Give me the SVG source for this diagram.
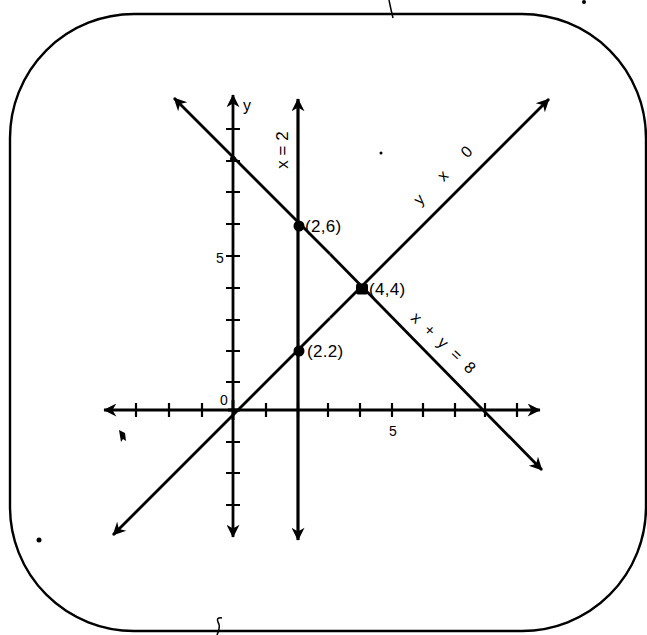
<svg xmlns="http://www.w3.org/2000/svg" width="647" height="635" viewBox="0 0 647 635">
<defs>
<marker id="ah" viewBox="0 0 10 10" refX="9.5" refY="5" markerUnits="userSpaceOnUse" markerWidth="18" markerHeight="13" orient="auto">
<path d="M0,0 L10,5 L0,10 L3,5 z" fill="#000"/>
</marker>
</defs>
<style>
.ln{stroke:#000;stroke-width:2.8;fill:none}
.tk{stroke:#000;stroke-width:2.2;fill:none}
.lb{font-family:"Liberation Sans",Arial,sans-serif;fill:#000}
</style>
<rect x="10" y="14" width="636" height="617" rx="124" ry="124" fill="#fff" stroke="#000" stroke-width="2.4"/>
<g id="connectors">
<line id="x-axis" class="ln" x1="240" y1="410" x2="104" y2="410" marker-end="url(#ah)"/>
<line class="ln" x1="228" y1="410" x2="540" y2="410" marker-end="url(#ah)"/>
<line id="y-axis" class="ln" x1="233" y1="420" x2="233" y2="95" marker-end="url(#ah)"/>
<line class="ln" x1="233" y1="400" x2="233" y2="537" marker-end="url(#ah)"/>
<line id="x2-line" class="ln" style="stroke-width:3.2" x1="298" y1="300" x2="298" y2="99" marker-end="url(#ah)"/>
<line class="ln" style="stroke-width:3.2" x1="298" y1="300" x2="298" y2="540" marker-end="url(#ah)"/>
<line id="yx-line" class="ln" x1="330" y1="318" x2="549" y2="99" marker-end="url(#ah)"/>
<line class="ln" x1="330" y1="318" x2="113" y2="535" marker-end="url(#ah)"/>
<line id="sum-line" class="ln" x1="330" y1="254" x2="174" y2="98" marker-end="url(#ah)"/>
<line class="ln" x1="330" y1="254" x2="542" y2="470" marker-end="url(#ah)"/>
<path class="tk" d="M136,403v14M169,403v14M202,403v14M266,403v14M298,403v14M328,403v14M360,403v14M392,403v14M423,403v14M455,403v14M485,403v14M517,403v14"/>
<path class="tk" d="M226,129h14M226,161h14M226,192h14M226,224h14M226,256h14M226,288h14M226,320h14M226,351h14M226,382h14M226,442h14M226,473h14M226,505h14"/>
</g>
<g id="p26"><circle cx="299" cy="226" r="5.5" fill="#000"/><text class="lb" x="305" y="232" font-size="17" letter-spacing="0.3">(2,6)</text></g>
<g id="p44"><rect x="356" y="283.5" width="12" height="11" rx="2" fill="#000"/><text class="lb" x="369" y="295" font-size="17" letter-spacing="0.3">(4,4)</text></g>
<g id="p22"><circle cx="299" cy="351" r="5.5" fill="#000"/><text class="lb" x="307" y="357" font-size="17" letter-spacing="0.3">(2.2)</text></g>
<g id="p08"><circle cx="233" cy="159" r="3" fill="#000"/></g>
<g id="labels">
<text class="lb" x="243" y="111" font-size="16">y</text>
<text class="lb" font-size="17" transform="translate(288,150) rotate(-90)" text-anchor="middle">x = 2</text>
<text class="lb" font-size="16" transform="translate(420,206) rotate(-45)" letter-spacing="10.5">y x 0</text>
<text class="lb" font-size="16" transform="translate(410,319) rotate(43)" letter-spacing="2.5">x + y = 8</text>
<text class="lb" x="220" y="263" font-size="14" text-anchor="middle">5</text>
<text class="lb" x="224" y="405" font-size="14" text-anchor="middle">0</text>
<text class="lb" x="393" y="436" font-size="14" text-anchor="middle">5</text>
</g>
<g id="specks" fill="#000">
<path d="M119,430 l6,3 l1,8 l-3,-2 l-2,3 z"/>
<circle cx="39" cy="540" r="2.5"/>
<circle cx="584" cy="2" r="2"/>
<circle cx="381" cy="153" r="1.5"/>
<path d="M389,0 q2,10 4,18" stroke="#000" stroke-width="1.5" fill="none"/>
<path d="M222,618 q-6,-1 -4,4 q3,5 -1,13" stroke="#000" stroke-width="1.5" fill="none"/>
</g>
</svg>
